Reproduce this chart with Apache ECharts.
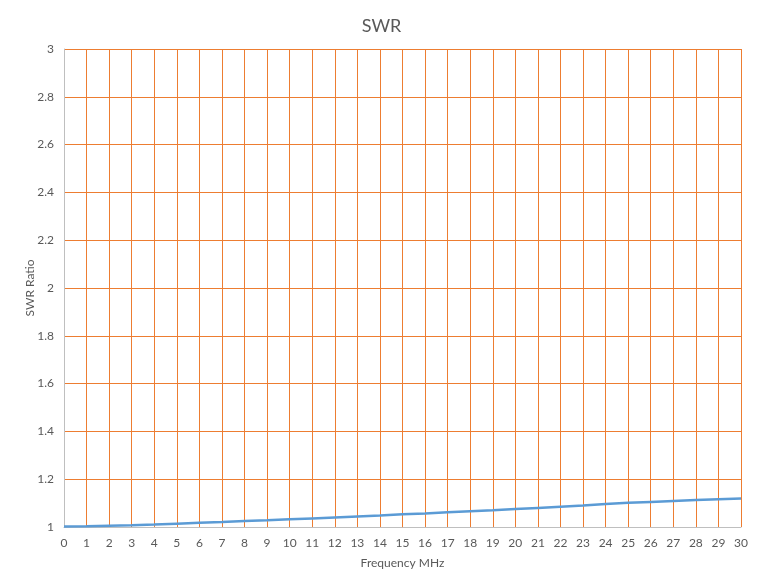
<!DOCTYPE html>
<html><head><meta charset="utf-8">
<script src="https://cdn.jsdelivr.net/npm/echarts@6/dist/echarts.min.js"></script>
<style>html,body{margin:0;padding:0;background:#fff}#c{width:763px;height:587px}</style>
</head><body><div id="c"></div>
<script>
const freq = [0,1,2,3,4,5,6,7,8,9,10,11,12,13,14,15,16,17,18,19,20,21,22,23,24,25,26,27,28,29,30];
const swr = [1.002,1.003,1.005,1.007,1.010,1.014,1.018,1.021,1.025,1.028,1.032,1.036,1.040,1.044,1.048,1.053,1.057,1.062,1.066,1.070,1.075,1.080,1.085,1.090,1.096,1.101,1.105,1.109,1.113,1.116,1.119];
const chart = echarts.init(document.getElementById('c'));
const font = 'Lato, "Open Sans", sans-serif';
chart.setOption({
  animation:false,
  title:{text:'SWR',left:'center',top:12,textStyle:{fontFamily:font,fontSize:18,fontWeight:'normal',color:'#595959'}},
  grid:{left:64,right:22,top:49,bottom:60,containLabel:false},
  xAxis:{type:'value',min:0,max:30,interval:1,name:'Frequency MHz',nameLocation:'middle',nameGap:30,
    nameTextStyle:{fontFamily:font,fontSize:12,color:'#595959'},
    axisLine:{show:true,lineStyle:{color:'#BFBFBF',width:1}},axisTick:{show:false},
    axisLabel:{fontFamily:font,fontSize:12,color:'#595959',margin:10},
    splitLine:{show:true,lineStyle:{color:'#ED7D31',width:1}}},
  yAxis:{type:'value',min:1,max:3,interval:0.2,name:'SWR Ratio',nameLocation:'middle',nameGap:28,nameMoveOverlap:false,
    nameTextStyle:{fontFamily:font,fontSize:12,color:'#595959'},
    axisLine:{show:true,lineStyle:{color:'#BFBFBF',width:1}},axisTick:{show:false},
    axisLabel:{fontFamily:font,fontSize:12,color:'#595959',margin:10,formatter:v=>String(Math.round(v*10)/10)},
    splitLine:{show:true,lineStyle:{color:'#ED7D31',width:1}}},
  series:[{type:'line',data:freq.map((f,i)=>[f,swr[i]]),showSymbol:false,lineStyle:{color:'#5B9BD5',width:2.5},itemStyle:{color:'#5B9BD5'}}]
});
</script></body></html>
